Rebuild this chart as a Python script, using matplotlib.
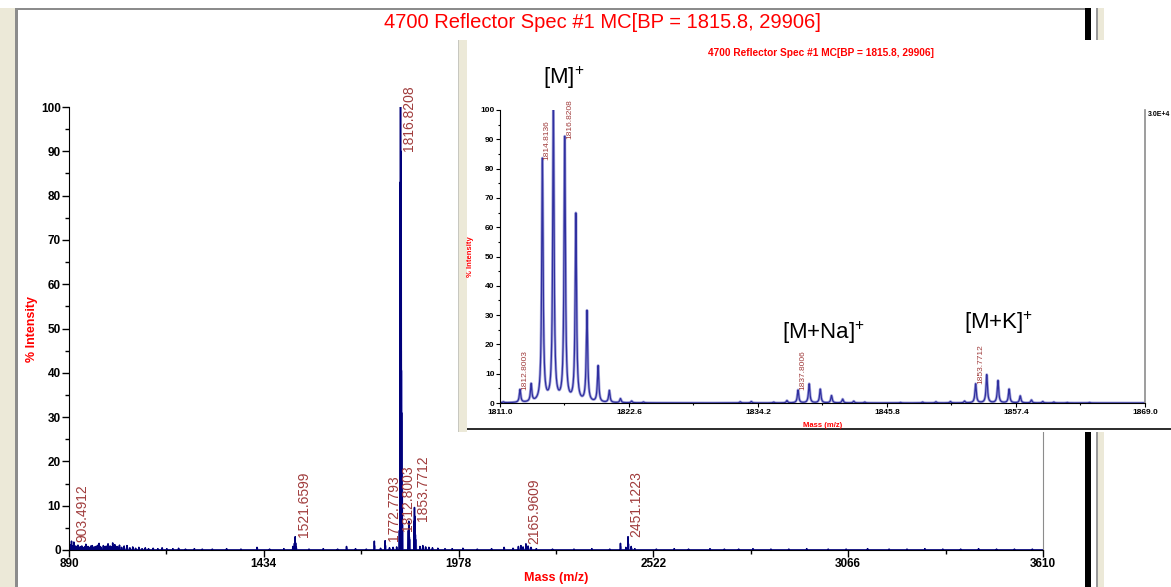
import numpy as np
import matplotlib.pyplot as plt
from matplotlib.patches import Rectangle
from matplotlib.ticker import MultipleLocator, FixedLocator

plt.rcParams['font.family'] = ['Liberation Sans', 'DejaVu Sans']
plt.rcParams['mathtext.fontset'] = 'custom'
plt.rcParams['mathtext.rm'] = 'Liberation Sans'

W, H = 1171, 587
title = "4700 Reflector Spec #1 MC[BP = 1815.8, 29906]"

# full-range spectrum: peak masses and % intensities
full_mass = [893, 895, 897, 899, 901, 903.4912, 906, 908, 910, 913, 915, 918, 921, 924,
             926, 929, 932, 935, 937, 940, 943, 948, 951, 955, 958,
             961, 965, 968, 971, 974, 977, 980, 986, 989, 992, 996, 999, 1002, 1005, 1009,
             1012, 1015, 1018, 1021, 1024, 1028, 1031, 1037, 1044,
             1052, 1060, 1068, 1076, 1085, 1094, 1103, 1112, 1125, 1138, 1150, 1163, 1180,
             1196, 1215, 1240, 1262, 1290, 1330, 1370, 1415, 1450, 1490, 1515, 1519.6,
             1520.6, 1521.6599, 1522.7, 1523.7, 1560, 1600, 1640, 1665, 1690, 1720, 1742.7,
             1760, 1772.7793, 1785, 1795, 1805, 1812.8003, 1813.8, 1814.8136, 1815.8,
             1816.8208, 1817.82, 1818.82, 1819.82, 1820.83, 1837.8006, 1838.8, 1839.8,
             1840.81, 1853.7712, 1854.77, 1855.78, 1856.78, 1857.78, 1870, 1878, 1886,
             1895, 1905, 1920, 1940, 1960, 1990, 2030, 2070, 2105, 2130, 2145, 2152, 2158,
             2165.9609, 2172, 2180, 2195, 2240, 2300, 2350, 2400, 2430, 2445, 2451.1223,
             2460, 2470, 2530, 2580, 2620, 2680, 2720, 2760, 2800, 2850, 2900, 2950, 3010,
             3060, 3120, 3180, 3230, 3280, 3330, 3380, 3430, 3480, 3530, 3580]
full_int = [1.2, 0.7, 2.0, 0.9, 0.8, 1.8, 1.0, 0.7, 0.6, 0.9, 1.1, 0.6, 0.7, 0.8,
            0.9, 0.6, 0.5, 0.8, 1.3, 0.7, 0.8, 0.6, 0.9, 1.0, 0.6,
            0.7, 0.8, 0.9, 1.1, 1.5, 0.8, 0.6, 1.0, 0.7, 0.8, 0.9, 1.4, 0.8, 0.9, 0.7,
            1.6, 0.9, 1.2, 0.7, 0.8, 0.6, 1.1, 0.6, 0.9,
            1.0, 0.5, 0.7, 0.4, 0.6, 0.3, 0.5, 0.3, 0.4, 0.3, 0.5, 0.3, 0.3,
            0.4, 0.2, 0.3, 0.2, 0.2, 0.3, 0.2, 0.6, 0.2, 0.3, 0.8, 1.5,
            2.2, 3.0, 1.6, 0.7, 0.2, 0.3, 0.2, 0.8, 0.3, 0.2, 2.0,
            0.4, 2.1, 0.5, 0.6, 0.7, 4.4, 6.0, 83, 100,
            90, 64, 31, 12.4, 4.1, 4.4, 6.5, 4.7,
            2.5, 6.5, 9.6, 7.6, 4.7, 2.4, 0.8, 1.0, 0.7,
            0.6, 0.5, 0.4, 0.3, 0.3, 0.4, 0.2, 0.3, 0.6, 0.4, 0.8, 1.0, 0.7,
            1.4, 0.9, 0.6, 0.3, 0.2, 0.2, 0.3, 0.2, 1.5, 0.6, 3.0,
            0.8, 0.3, 0.2, 0.3, 0.2, 0.3, 0.2, 0.2, 0.3, 0.2, 0.2, 0.3, 0.2,
            0.2, 0.3, 0.2, 0.2, 0.3, 0.2, 0.2, 0.3, 0.2, 0.2, 0.2]
full_labels = ["903.4912", "1521.6599", "1772.7793", "1816.8208", "1812.8003",
               "1853.7712", "2165.9609", "2451.1223"]
full_ticks = [890, 1434, 1978, 2522, 3066, 3610]

# zoomed molecular-ion region
zoom_mass = [1811.3, 1812.8003, 1813.8, 1814.8136, 1815.8, 1816.8208, 1817.82, 1818.82,
             1819.82, 1820.83, 1821.83, 1822.84, 1823.9, 1832.6, 1833.6, 1835.6, 1836.8,
             1837.8006, 1838.8, 1839.8, 1840.81, 1841.81, 1842.81, 1843.8, 1847.0,
             1849.0, 1850.2, 1851.5, 1852.77, 1853.7712, 1854.77, 1855.78, 1856.78,
             1857.78, 1858.79, 1859.8, 1860.8, 1862.0, 1864.0]
zoom_int = [0.3, 4.4, 6.0, 83, 100, 90, 64, 31,
            12.4, 4.1, 1.4, 0.6, 0.3, 0.4, 0.5, 0.3, 0.8,
            4.4, 6.5, 4.7, 2.5, 1.3, 0.6, 0.3, 0.2,
            0.3, 0.4, 0.5, 0.6, 6.5, 9.6, 7.6, 4.7,
            2.4, 1.0, 0.5, 0.3, 0.2, 0.2]
zoom_labels = ["1812.8003", "1814.8136", "1816.8208", "1837.8006", "1853.7712"]
zoom_ticks = [1811.0, 1822.6, 1834.2, 1845.8, 1857.4, 1869.0]

ions = [r"[M]$^{+}$", r"[M+Na]$^{+}$", r"[M+K]$^{+}$"]
ion_mass = [1816.7, 1840.1, 1855.8]
ion_level = [111, 24, 27.5]


def fig_rect(x, y, w, h, **kw):
    # rectangle given in pixels from the top-left corner
    fig.add_artist(Rectangle((x / W, 1 - (y + h) / H), w / W, h / H,
                             transform=fig.transFigure, lw=0, **kw))


fig = plt.figure(figsize=(W / 100, H / 100), dpi=100)
fig.patch.set_facecolor('white')

# window frame around the plot
beige = '#ECE9D8'
fig_rect(0, 8, 15, H - 8, color=beige, zorder=0.2)
fig_rect(15, 8, 3, H - 8, color='#8C8C8C', zorder=0.2)
fig_rect(15, 8, 1072, 2, color='#8C8C8C', zorder=0.2)
fig_rect(1085, 8, 6, H - 8, color='black', zorder=0.2)
fig_rect(1096, 8, 2, H - 8, color='#9A9A9A', zorder=0.2)
fig_rect(1098, 8, 6, H - 8, color=beige, zorder=0.2)

fig.text(602 / W, 1 - 22 / H, title, color='red', fontsize=14.5,
         ha='center', va='center')

# main spectrum
ax = fig.add_axes([69 / W, 1 - 550 / H, 974 / W, 443 / H], zorder=1)
ax.patch.set_alpha(0)
order = np.argsort(full_mass)
m = np.asarray(full_mass)[order]
h = np.asarray(full_int)[order]
xs = np.column_stack([m - 0.6, m, m + 0.6]).ravel()
ys = np.column_stack([np.zeros_like(h), h, np.zeros_like(h)]).ravel()
xs = np.concatenate([[890], xs, [3610]])
ys = np.concatenate([[0], ys, [0]])
ax.plot(xs + 1.5, ys * 0.45, color='#9A9AE0', lw=1.4)
ax.plot(xs, ys, color='#00007A', lw=1.1)
ax.set_xlim(890, 3610)
ax.set_ylim(0, 100)
for lab in full_labels:
    pm = float(lab)
    ph = full_int[full_mass.index(pm)]
    ax.text(pm + 4, ph, lab, rotation=90, ha='left', va='bottom',
            fontsize=10, color='#A03C3C', clip_on=False)
ax.xaxis.set_major_locator(FixedLocator(full_ticks))
ax.xaxis.set_minor_locator(FixedLocator([(a + b) / 2 for a, b in zip(full_ticks, full_ticks[1:])]))
ax.yaxis.set_major_locator(MultipleLocator(10))
ax.yaxis.set_minor_locator(MultipleLocator(5))
ax.tick_params(which='major', direction='out', length=5, width=1, labelsize=8.5, pad=1)
ax.tick_params(which='minor', direction='out', length=3, width=1)
for t in ax.get_xticklabels() + ax.get_yticklabels():
    t.set_fontweight('bold')
ax.spines['top'].set_visible(False)
ax.spines['right'].set_color('#8C8C8C')
ax.set_xlabel('Mass (m/z)', color='red', fontsize=9, fontweight='bold')
ax.xaxis.set_label_coords(0.5, -0.05)
ax.set_ylabel('% Intensity', color='red', fontsize=9, fontweight='bold')
ax.yaxis.set_label_coords(-0.032, 0.5)

# pasted panel behind the zoom
bg = fig.add_axes([458 / W, 1 - 432 / H, (W - 458) / W, 392 / H], zorder=2)
bg.set_xlim(0, W - 458)
bg.set_ylim(392, 0)
bg.axis('off')
bg.add_patch(Rectangle((0, 0), W - 458, 392, color='white', lw=0))
bg.add_patch(Rectangle((0, 0), 9, 392, color=beige, lw=0))
bg.add_patch(Rectangle((0, 0), 1, 392, color='#C8C8C0', lw=0))
bg.add_patch(Rectangle((9, 388), W - 467, 2.5, color='#303030', lw=0))
bg.text(363, 13, title, color='red', fontsize=7.3, fontweight='bold',
        ha='center', va='center')
bg.text(690, 75, '3.0E+4', fontsize=5, fontweight='bold', va='center')

# zoomed view of the molecular-ion cluster
ins = fig.add_axes([500 / W, 1 - 403 / H, 645 / W, 293 / H], zorder=3)
ins.patch.set_alpha(0)
grid = np.linspace(1811, 1869, 5801)
prof = np.zeros_like(grid)
for pm, ph in zip(zoom_mass, zoom_int):
    prof += ph / (1 + ((grid - pm) / 0.075) ** 2)
ins.plot(grid, prof, color='#A8A8DC', lw=2.0)
ins.plot(grid, prof, color='#3030A0', lw=0.9)
ins.set_xlim(1811, 1869)
ins.set_ylim(0, 100)
for lab in zoom_labels:
    pm = float(lab)
    ph = zoom_int[zoom_mass.index(pm)]
    ins.text(pm + 0.12, ph, lab, rotation=90, ha='left', va='bottom',
             fontsize=6, color='#A03C3C', clip_on=False)
for txt, pm, lvl in zip(ions, ion_mass, ion_level):
    ins.text(pm, lvl, txt, fontsize=16, ha='center', va='center', clip_on=False)
ins.xaxis.set_major_locator(FixedLocator(zoom_ticks))
ins.xaxis.set_minor_locator(FixedLocator([(a + b) / 2 for a, b in zip(zoom_ticks, zoom_ticks[1:])]))
ins.xaxis.set_major_formatter(plt.FuncFormatter(lambda v, p: f"{v:.1f}"))
ins.yaxis.set_major_locator(MultipleLocator(10))
ins.yaxis.set_minor_locator(MultipleLocator(5))
ins.tick_params(which='major', direction='out', length=3, width=0.8, labelsize=6, pad=1)
ins.tick_params(which='minor', direction='out', length=1.5, width=0.8)
for t in ins.get_xticklabels() + ins.get_yticklabels():
    t.set_fontweight('bold')
ins.spines['top'].set_visible(False)
ins.spines['right'].set_color('#8C8C8C')
for s in ['left', 'bottom']:
    ins.spines[s].set_linewidth(0.8)
ins.spines['right'].set_linewidth(1.2)
ins.set_xlabel('Mass (m/z)', color='red', fontsize=5.5, fontweight='bold')
ins.xaxis.set_label_coords(0.5, -0.065)
ins.set_ylabel('% Intensity', color='red', fontsize=5.5, fontweight='bold')
ins.yaxis.set_label_coords(-0.04, 0.5)

fig.savefig('out.png', dpi=100)
